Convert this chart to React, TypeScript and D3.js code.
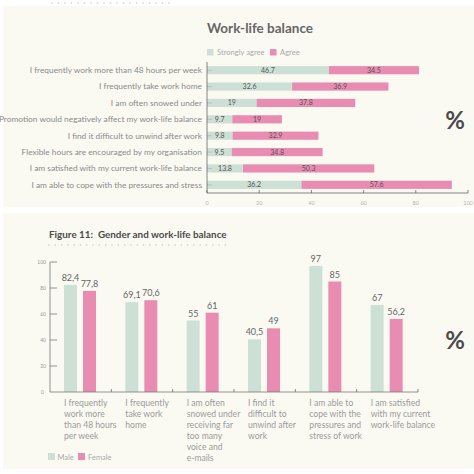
import React from "react";
import * as d3 from "d3";

const topCategories = [
  "I frequently work more than 48 hours per week",
  "I frequently take work home",
  "I am often snowed under",
  "Promotion would negatively affect my work-life balance",
  "I find it difficult to unwind after work",
  "Flexible hours are encouraged by my organisation",
  "I am satisfied with my current work-life balance",
  "I am able to cope with the pressures and stress",
];
const stronglyAgree = [46.7, 32.6, 19, 9.7, 9.8, 9.5, 13.8, 36.2];
const agree = [34.5, 36.9, 37.8, 19, 32.9, 34.8, 50.3, 57.6];
const topTicks = [0, 20, 40, 60, 80, 100];
const topSeriesNames = ["Strongly agree", "Agree"];

const bottomCategories = [
  ["I frequently", "work more", "than 48 hours", "per week"],
  ["I frequently", "take work", "home"],
  ["I am often", "snowed under", "receiving far", "too many", "voice and", "e-mails"],
  ["I find it", "difficult to", "unwind after", "work"],
  ["I am able to", "cope with the", "pressures and", "stress of work"],
  ["I am satisfied", "with my current", "work-life balance"],
];
const male = [82.4, 69.1, 55, 40.5, 97, 67];
const female = [77.8, 70.6, 61, 49, 85, 56.2];
const bottomTicks = [0, 20, 40, 60, 80, 100];
const bottomSeriesNames = ["Male", "Female"];

const GREEN = "#cde0d6";
const PINK = "#e98cb1";
const FONT = "Lato, 'Open Sans', sans-serif";

export default function App() {
  // Top chart scales
  const x = d3.scaleLinear().domain([0, 100]).range([207, 468]);
  const yTop = d3
    .scaleBand<number>()
    .domain(d3.range(topCategories.length))
    .range([62, 193])
    .paddingInner(0.5)
    .paddingOuter(0.25);
  const bh = yTop.bandwidth();

  // Bottom chart scales
  const xb = d3
    .scaleBand<number>()
    .domain(d3.range(bottomCategories.length))
    .range([50, 418]);
  const yb = d3.scaleLinear().domain([0, 100]).range([392, 262]);
  const bw = 13;
  const fmtComma = (v: number) => String(v).replace(".", ",");

  const dots = (x0: number, x1: number, y: number, step: number) =>
    d3.range(x0, x1, step).map((d, i) => (
      <circle key={i} cx={d} cy={y} r={0.8} fill="#c9c9c4" />
    ));

  return (
    <div style={{ position: "absolute", left: 0, top: 0 }}>
      <svg width={474} height={474} style={{ display: "block" }} fontFamily={FONT}>
        <rect x={0} y={0} width={474} height={474} fill="#ffffff" />
        <rect x={3} y={6} width={471} height={201} fill="#fafaf3" />
        <rect x={3} y={213} width={471} height={256} fill="#fafaf3" />
        {dots(52, 170, 3, 6.5)}

        {/* Top chart */}
        <text x={260} y={33} textAnchor="middle" fontSize={13.5} fontWeight={700} fill="#666">
          Work-life balance
        </text>
        <rect x={207} y={49} width={6.5} height={6.5} fill={GREEN} />
        <text x={217} y={55} fontSize={7.6} fill="#aaa">{topSeriesNames[0]}</text>
        <rect x={270} y={49} width={6.5} height={6.5} fill={PINK} />
        <text x={280} y={55} fontSize={7.6} fill="#aaa">{topSeriesNames[1]}</text>

        {topCategories.map((c, i) => {
          const y0 = yTop(i)!;
          const cy = y0 + bh / 2;
          const s = stronglyAgree[i];
          const a = agree[i];
          return (
            <g key={i}>
              <text x={202} y={cy + 2.9} textAnchor="end" fontSize={8.35} fill="#8a8a8a">
                {c}
              </text>
              <rect x={x(0)} y={y0} width={x(s) - x(0)} height={bh} fill={GREEN} />
              <rect x={x(s)} y={y0} width={x(s + a) - x(s)} height={bh} fill={PINK} />
              <line x1={207} x2={212} y1={cy} y2={cy} stroke="#aab" strokeWidth={0.6} />
              <text x={(x(0) + x(s)) / 2} y={cy + 2.5} textAnchor="middle" fontSize={7} fill="#555">
                {String(s)}
              </text>
              <text x={(x(s) + x(s + a)) / 2} y={cy + 2.5} textAnchor="middle" fontSize={7} fill="#555">
                {String(a)}
              </text>
            </g>
          );
        })}
        <line x1={207} x2={207} y1={62} y2={193} stroke="#666" strokeWidth={0.8} />
        <line x1={207} x2={468} y1={193} y2={193} stroke="#666" strokeWidth={0.8} />
        {topTicks.map((t) => (
          <g key={t}>
            <line x1={x(t)} x2={x(t)} y1={193} y2={190} stroke="#666" strokeWidth={0.8} />
            <text x={x(t)} y={205} textAnchor="middle" fontSize={5.5} fill="#b5b5b5">
              {t}
            </text>
          </g>
        ))}
        <text x={455} y={129} textAnchor="middle" fontSize={24} fontWeight={700} fill="#4a4a4a">
          %
        </text>

        {/* Bottom chart */}
        <text x={49} y={238} fontSize={9.9} fontWeight={700} fill="#4a4a4a">
          Figure 11:{"\u00A0\u00A0"}Gender and work-life balance
        </text>
        {dots(49, 230, 245, 6.3)}

        {bottomCategories.map((lines, i) => {
          const b0 = xb(i)!;
          const mx = b0 + 14;
          const fx = b0 + 33;
          return (
            <g key={i}>
              <rect x={mx} y={yb(male[i])} width={bw} height={yb(0) - yb(male[i])} fill={GREEN} />
              <rect x={fx} y={yb(female[i])} width={bw} height={yb(0) - yb(female[i])} fill={PINK} />
              <text x={mx + bw / 2} y={yb(male[i]) - 4} textAnchor="middle" fontSize={9} fill="#666">
                {fmtComma(male[i])}
              </text>
              <text x={fx + bw / 2} y={yb(female[i]) - 4} textAnchor="middle" fontSize={9} fill="#666">
                {fmtComma(female[i])}
              </text>
              <text x={mx} y={406} fontSize={8.6} fill="#9a9a9a">
                {lines.map((l, k) => (
                  <tspan key={k} x={mx} dy={k === 0 ? 0 : 11}>
                    {l}
                  </tspan>
                ))}
              </text>
              <line
                x1={b0 + xb.bandwidth()}
                x2={b0 + xb.bandwidth()}
                y1={392}
                y2={389}
                stroke="#666"
                strokeWidth={0.8}
              />
            </g>
          );
        })}
        <line x1={50} x2={50} y1={262} y2={392} stroke="#777" strokeWidth={0.8} />
        <line x1={50} x2={418} y1={392} y2={392} stroke="#777" strokeWidth={0.8} />
        {bottomTicks.map((t) => (
          <g key={t}>
            {t > 0 && <line x1={50} x2={57} y1={yb(t)} y2={yb(t)} stroke="#777" strokeWidth={0.8} />}
            <text x={t === 0 ? 44 : 46} y={yb(t) + 2} textAnchor="end" fontSize={5} fill="#999">
              {t}
            </text>
          </g>
        ))}
        <text x={455} y={349} textAnchor="middle" fontSize={24} fontWeight={700} fill="#4a4a4a">
          %
        </text>

        <rect x={48} y={453} width={7} height={7} fill={GREEN} />
        <text x={57.5} y={459.5} fontSize={7.5} fill="#aaa">{bottomSeriesNames[0]}</text>
        <rect x={78} y={453} width={7} height={7} fill={PINK} />
        <text x={88} y={459.5} fontSize={7.5} fill="#aaa">{bottomSeriesNames[1]}</text>
      </svg>
    </div>
  );
}
